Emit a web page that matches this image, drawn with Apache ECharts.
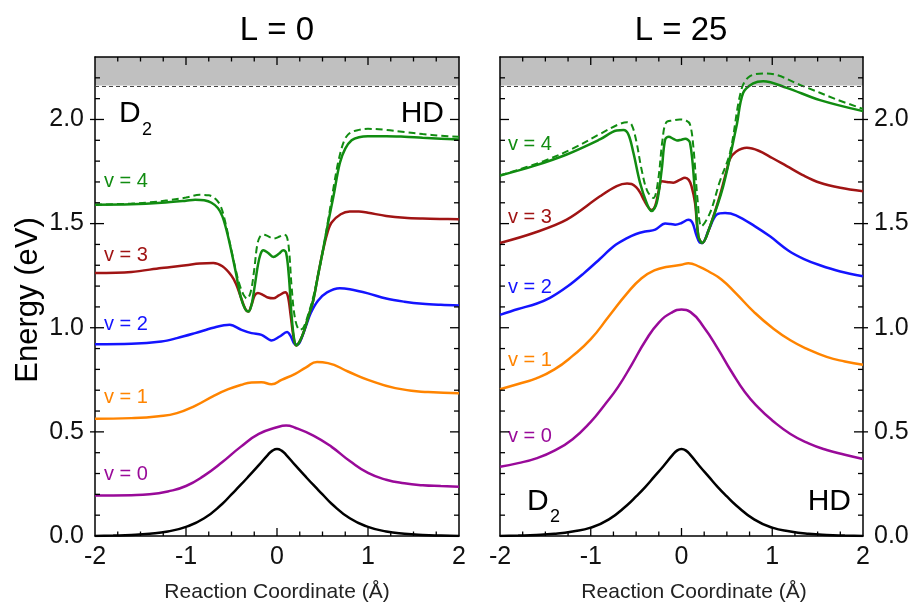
<!DOCTYPE html>
<html>
<head>
<meta charset="utf-8">
<script src="https://cdn.jsdelivr.net/npm/echarts@6/dist/echarts.min.js"></script>
<style>
html,body{margin:0;padding:0;background:#fff;}
#chart{width:913px;height:605px;}
</style>
</head>
<body>
<div id="chart"></div>
<script>
// ---------- data (x in Å, energy in eV) ----------
const xTicks = [-2, -1, 0, 1, 2];
const yTicks = [0, 0.5, 1.0, 1.5, 2.0];
const yTickLabels = ['0.0', '0.5', '1.0', '1.5', '2.0'];
const xMinorStep = 0.25;
const yMinorStep = 0.1;
const dissociationLimit = 2.163;
const yMax = 2.3;

// L = 0 panel
const barrierL0 = [[-2,0],[-1.8,0.002],[-1.6,0.005],[-1.4,0.011],[-1.2,0.022],[-1.0,0.044],[-0.8,0.085],[-0.6,0.155],[-0.5,0.2],[-0.4,0.245],[-0.3,0.292],[-0.2,0.34],[-0.1,0.39],[-0.05,0.41],[0,0.418],[0.05,0.41],[0.1,0.39],[0.2,0.34],[0.3,0.292],[0.4,0.245],[0.5,0.2],[0.6,0.155],[0.8,0.085],[1.0,0.044],[1.2,0.022],[1.4,0.011],[1.6,0.005],[1.8,0.002],[2,0]];
const v0L0 = [[-2,0.194],[-1.6,0.196],[-1.4,0.2],[-1.2,0.214],[-1.0,0.24],[-0.8,0.29],[-0.6,0.355],[-0.4,0.428],[-0.2,0.49],[0,0.522],[0.1,0.53],[0.2,0.52],[0.4,0.482],[0.6,0.428],[0.8,0.36],[1.0,0.303],[1.2,0.27],[1.4,0.253],[1.6,0.244],[1.8,0.24],[2,0.237]];
const v1L0 = [[-2,0.563],[-1.6,0.566],[-1.3,0.575],[-1.1,0.59],[-0.9,0.625],[-0.7,0.672],[-0.535,0.705],[-0.4,0.725],[-0.28,0.737],[-0.17,0.738],[-0.06,0.729],[0.05,0.75],[0.2,0.779],[0.32,0.81],[0.44,0.835],[0.56,0.83],[0.78,0.79],[1.0,0.75],[1.3,0.71],[1.66,0.691],[2,0.686]];
const v2L0 = [[-2,0.921],[-1.6,0.923],[-1.27,0.934],[-1.1,0.95],[-0.9,0.974],[-0.7,1.0],[-0.52,1.014],[-0.39,0.99],[-0.28,0.974],[-0.17,0.966],[-0.06,0.939],[0.03,0.958],[0.11,0.979],[0.15,0.96],[0.2,0.92],[0.23,0.92],[0.27,0.95],[0.32,1.01],[0.37,1.07],[0.45,1.13],[0.55,1.17],[0.69,1.19],[0.8,1.185],[1.0,1.165],[1.2,1.14],[1.4,1.125],[1.6,1.115],[1.8,1.11],[2,1.107]];
const v3L0 = [[-2,1.263],[-1.6,1.268],[-1.27,1.287],[-1.0,1.3],[-0.85,1.308],[-0.7,1.311],[-0.6,1.295],[-0.5,1.25],[-0.45,1.21],[-0.4,1.15],[-0.35,1.092],[-0.315,1.078],[-0.28,1.11],[-0.245,1.155],[-0.21,1.167],[-0.15,1.157],[-0.1,1.145],[-0.04,1.141],[0.02,1.155],[0.09,1.17],[0.12,1.15],[0.15,1.06],[0.18,0.96],[0.21,0.915],[0.25,0.935],[0.29,0.975],[0.35,1.06],[0.4,1.135],[0.45,1.25],[0.5,1.36],[0.55,1.45],[0.6,1.505],[0.7,1.545],[0.8,1.558],[0.9,1.558],[1.0,1.552],[1.2,1.537],[1.4,1.528],[1.6,1.524],[1.8,1.522],[2,1.521]];
const v4L0 = [[-2,1.591],[-1.6,1.593],[-1.27,1.6],[-1.0,1.61],[-0.9,1.615],[-0.8,1.612],[-0.72,1.6],[-0.65,1.575],[-0.6,1.535],[-0.55,1.46],[-0.5,1.365],[-0.45,1.26],[-0.4,1.15],[-0.35,1.09],[-0.315,1.078],[-0.28,1.11],[-0.245,1.2],[-0.21,1.3],[-0.18,1.355],[-0.15,1.372],[-0.1,1.36],[-0.04,1.34],[0.02,1.355],[0.07,1.372],[0.1,1.36],[0.13,1.25],[0.16,1.06],[0.19,0.94],[0.215,0.915],[0.25,0.935],[0.29,0.975],[0.35,1.06],[0.4,1.135],[0.45,1.25],[0.5,1.36],[0.56,1.5],[0.62,1.63],[0.69,1.79],[0.75,1.86],[0.82,1.9],[0.9,1.915],[1.0,1.92],[1.2,1.92],[1.4,1.917],[1.6,1.912],[1.8,1.908],[2,1.904]];
const v4dL0 = [[-2,1.591],[-1.6,1.596],[-1.4,1.602],[-1.2,1.612],[-1.0,1.625],[-0.85,1.638],[-0.75,1.636],[-0.68,1.62],[-0.62,1.585],[-0.57,1.51],[-0.52,1.41],[-0.47,1.31],[-0.42,1.22],[-0.37,1.16],[-0.33,1.14],[-0.29,1.17],[-0.25,1.28],[-0.22,1.39],[-0.19,1.435],[-0.15,1.447],[-0.1,1.44],[-0.04,1.428],[0.03,1.438],[0.08,1.447],[0.11,1.435],[0.135,1.36],[0.16,1.2],[0.2,1.04],[0.25,0.99],[0.29,1.0],[0.34,1.06],[0.4,1.15],[0.45,1.25],[0.5,1.36],[0.56,1.51],[0.62,1.67],[0.68,1.81],[0.74,1.9],[0.8,1.935],[0.9,1.95],[1.0,1.955],[1.2,1.95],[1.4,1.94],[1.6,1.93],[1.8,1.922],[2,1.917]];

// L = 25 panel
const barrierL25 = [[-2,0],[-1.8,0.002],[-1.6,0.005],[-1.4,0.011],[-1.2,0.022],[-1.0,0.040],[-0.8,0.08],[-0.6,0.148],[-0.5,0.19],[-0.4,0.235],[-0.3,0.285],[-0.2,0.335],[-0.1,0.388],[-0.05,0.41],[0,0.418],[0.05,0.41],[0.1,0.388],[0.2,0.335],[0.3,0.285],[0.4,0.235],[0.5,0.19],[0.6,0.148],[0.8,0.08],[1.0,0.040],[1.2,0.022],[1.4,0.011],[1.6,0.005],[1.8,0.002],[2,0]];
const v0L25 = [[-2,0.333],[-1.8,0.35],[-1.6,0.373],[-1.4,0.41],[-1.2,0.465],[-1.0,0.548],[-0.85,0.628],[-0.7,0.715],[-0.55,0.822],[-0.4,0.935],[-0.25,1.025],[-0.1,1.075],[0,1.087],[0.1,1.075],[0.25,1.0],[0.4,0.9],[0.55,0.79],[0.7,0.69],[0.85,0.615],[1.0,0.555],[1.2,0.49],[1.4,0.445],[1.6,0.413],[1.8,0.39],[2,0.37]];
const v1L25 = [[-2,0.705],[-1.8,0.73],[-1.6,0.757],[-1.4,0.8],[-1.2,0.865],[-1.0,0.945],[-0.8,1.055],[-0.6,1.165],[-0.44,1.238],[-0.3,1.275],[-0.15,1.293],[0,1.302],[0.075,1.31],[0.2,1.292],[0.3,1.27],[0.44,1.232],[0.6,1.165],[0.8,1.075],[1.0,1.0],[1.2,0.94],[1.4,0.895],[1.6,0.86],[1.8,0.838],[2,0.822]];
const v2L25 = [[-2,1.062],[-1.8,1.09],[-1.6,1.115],[-1.45,1.143],[-1.25,1.2],[-1.08,1.26],[-0.9,1.33],[-0.75,1.39],[-0.6,1.43],[-0.5,1.45],[-0.4,1.462],[-0.29,1.471],[-0.18,1.5],[-0.12,1.498],[-0.07,1.495],[0.0,1.503],[0.075,1.518],[0.12,1.505],[0.16,1.45],[0.2,1.41],[0.229,1.407],[0.3,1.47],[0.388,1.543],[0.48,1.551],[0.6,1.54],[0.81,1.487],[0.975,1.439],[1.18,1.37],[1.35,1.33],[1.526,1.3],[1.75,1.27],[2,1.247]];
const v3L25 = [[-2,1.407],[-1.63,1.455],[-1.265,1.519],[-0.898,1.631],[-0.714,1.68],[-0.6,1.692],[-0.55,1.69],[-0.5,1.675],[-0.457,1.65],[-0.41,1.61],[-0.36,1.575],[-0.33,1.565],[-0.29,1.585],[-0.25,1.66],[-0.218,1.703],[-0.16,1.7],[-0.09,1.696],[-0.02,1.71],[0.039,1.72],[0.08,1.71],[0.11,1.68],[0.149,1.6],[0.186,1.44],[0.229,1.407],[0.314,1.487],[0.42,1.63],[0.5,1.76],[0.534,1.81],[0.6,1.845],[0.72,1.864],[0.85,1.85],[1.0,1.815],[1.16,1.776],[1.35,1.73],[1.526,1.696],[1.75,1.672],[2,1.655]];
const v4L25 = [[-2,1.731],[-1.633,1.776],[-1.265,1.832],[-0.9,1.904],[-0.714,1.947],[-0.64,1.949],[-0.585,1.928],[-0.53,1.84],[-0.457,1.696],[-0.384,1.599],[-0.33,1.56],[-0.273,1.599],[-0.218,1.76],[-0.18,1.904],[-0.14,1.917],[-0.09,1.907],[-0.05,1.899],[0.0,1.903],[0.04,1.907],[0.094,1.888],[0.149,1.647],[0.186,1.44],[0.229,1.407],[0.314,1.487],[0.46,1.68],[0.607,1.97],[0.68,2.128],[0.79,2.173],[0.9,2.184],[1.16,2.152],[1.526,2.093],[2,2.04]];
const v4dL25 = [[-2,1.731],[-1.52,1.8],[-1.2,1.86],[-0.9,1.93],[-0.7,1.975],[-0.6,1.987],[-0.55,1.975],[-0.5,1.9],[-0.44,1.76],[-0.38,1.66],[-0.31,1.623],[-0.26,1.7],[-0.21,1.9],[-0.17,1.985],[-0.1,1.995],[-0.02,2.0],[0.05,1.995],[0.094,1.976],[0.13,1.872],[0.18,1.6],[0.22,1.487],[0.314,1.551],[0.42,1.7],[0.534,1.84],[0.66,2.144],[0.755,2.208],[0.94,2.221],[1.34,2.16],[1.71,2.096],[2,2.051]];

const levelNames = ['v = 0', 'v = 1', 'v = 2', 'v = 3', 'v = 4'];
const panelTitles = ['L = 0', 'L = 25'];

// ---------- styling ----------
const FONT = '"Liberation Sans", Arial, Helvetica, sans-serif';
const C = {black:'#000000', v0:'#990a99', v1:'#ff8400', v2:'#1414ff', v3:'#a01414', v4:'#118c11'};
function frame() { return {show:true, onZero:false, lineStyle:{color:'#000', width:1.5}}; }

const xAxisList = [];
const yAxisList = [];
function addX(grid, pos) {
  xAxisList.push({
    type:'value', gridIndex:grid, position:pos, min:xTicks[0], max:xTicks[xTicks.length-1], interval:1,
    axisLine: frame(), splitLine:{show:false}, axisTick:{show:false},
    axisLabel: pos === 'bottom'
      ? {show:true, fontSize:25, fontFamily:FONT, color:'#111', margin:9,
         formatter:v => { const i = xTicks.indexOf(Math.round(v)); return i>=0 ? String(xTicks[i]) : ''; }}
      : {show:false}
  });
  return xAxisList.length - 1;
}
function addY(grid, pos, labels) {
  yAxisList.push({
    type:'value', gridIndex:grid, position:pos, min:0, max:yMax, interval:0.5,
    axisLine: frame(), splitLine:{show:false}, axisTick:{show:false},
    axisLabel: labels
      ? {show:true, fontSize:25, fontFamily:FONT, color:'#111', margin:11, showMaxLabel:false,
         formatter:v => { const k = yTicks.findIndex(t => Math.abs(t - v) < 1e-6); return k >= 0 ? yTickLabels[k] : ''; }}
      : {show:false}
  });
  return yAxisList.length - 1;
}

const panelAxes = [0, 1].map(g => {
  const xi = addX(g, 'bottom');
  addX(g, 'top');
  const labelSide = g === 0 ? 'left' : 'right';
  const otherSide = g === 0 ? 'right' : 'left';
  const yi = addY(g, labelSide, true);
  addY(g, otherSide, false);
  return {xi, yi, labelSide};
});

// tick marks: [x, y, dirX, dirY, lengthInside, lengthOutside]
function tickData(labelSide) {
  const out = [];
  const xMin = xTicks[0], xMaxV = xTicks[xTicks.length-1];
  const nx = Math.round((xMaxV - xMin) / xMinorStep);
  for (let k = 1; k < nx; k++) {
    const x = xMin + k * xMinorStep;
    const major = xTicks.some(t => Math.abs(t - x) < 1e-9);
    const L = major ? 8 : 4.5;
    out.push([x, 0, 0, -1, L, 0]);      // bottom, pointing up
    out.push([x, yMax, 0, 1, L, 0]);    // top, pointing down
  }
  const ny = Math.round(yMax / yMinorStep);
  for (let k = 1; k < ny; k++) {
    const y = k * yMinorStep;
    const major = yTicks.some(t => Math.abs(t - y) < 1e-9);
    const L = major ? 9 : 5;
    const leftOut = (major && labelSide === 'left') ? 5 : 0;
    const rightOut = (major && labelSide === 'right') ? 5 : 0;
    out.push([xMin, y, 1, 0, L, leftOut]);    // left side, pointing right
    out.push([xMaxV, y, -1, 0, L, rightOut]); // right side, pointing left
  }
  return out;
}
function tickSeries(ax) {
  return {
    type:'custom', xAxisIndex:ax.xi, yAxisIndex:ax.yi, z:6, silent:true, clip:false,
    encode:{x:0, y:1},
    data: tickData(ax.labelSide),
    renderItem: (params, api) => {
      const p = api.coord([api.value(0), api.value(1)]);
      const dx = api.value(2), dy = api.value(3), li = api.value(4), lo = api.value(5);
      return {type:'line', silent:true,
        shape:{x1:p[0] - dx*lo, y1:p[1] - dy*lo, x2:p[0] + dx*li, y2:p[1] + dy*li},
        style:{stroke:'#000', lineWidth:1.3}};
    }
  };
}

function line(name, data, color, ax, dashed, smooth) {
  return {
    name, type:'line', data, xAxisIndex:ax.xi, yAxisIndex:ax.yi, showSymbol:false, symbol:'none',
    smooth: smooth,
    lineStyle:{color, width: dashed ? 2 : 2.5, type: dashed ? [7,4] : 'solid'}
  };
}
function band(ax) {
  return {
    type:'line', data:[], xAxisIndex:ax.xi, yAxisIndex:ax.yi, z:-1,
    markArea:{silent:true, z:-1, itemStyle:{color:'#c0c0c0'}, data:[[{yAxis:dissociationLimit},{yAxis:yMax}]]},
    markLine:{silent:true, symbol:'none', label:{show:false},
      lineStyle:{color:'#444', width:1, type:[4,3]}, data:[{yAxis:dissociationLimit}]}
  };
}

const panels = [
  {curves:[barrierL0, v0L0, v1L0, v2L0, v3L0, v4L0], dashed:v4dL0},
  {curves:[barrierL25, v0L25, v1L25, v2L25, v3L25, v4L25], dashed:v4dL25}
];
const colors = [C.black, C.v0, C.v1, C.v2, C.v3, C.v4];
const smoothing = [0.5, 0.5, 0.5, 0.35, 0.35, 0.35];
const series = [];
panels.forEach((p, k) => {
  const ax = panelAxes[k];
  series.push(band(ax));
  p.curves.forEach((d, i) => series.push(line((i===0?'barrier':levelNames[i-1]) + ' ' + panelTitles[k], d, colors[i], ax, false, smoothing[i])));
  series.push(line('v = 4 dashed ' + panelTitles[k], p.dashed, C.v4, ax, true, 0.35));
  series.push(tickSeries(ax));
});

function txt(x, y, text, size, color, align, extra) {
  return Object.assign({type:'text', x, y,
    style:{text, fontSize:size, fontFamily:FONT, fill:color, align:align||'left', verticalAlign:'middle'}}, extra||{});
}
const labL = [474, 397, 324, 255, 181];
const labR = [436, 360, 287, 217, 144];
const lvlColors = [C.v0, C.v1, C.v2, C.v3, C.v4];
const graphics = [
  txt(277, 31, panelTitles[0], 33, '#000', 'center'),
  txt(681, 31, panelTitles[1], 33, '#000', 'center'),
  txt(28, 300, 'Energy (eV)', 31, '#000', 'center', {rotation: Math.PI/2}),
  txt(277, 592, 'Reaction Coordinate (Å)', 21, '#222', 'center'),
  txt(694, 592, 'Reaction Coordinate (Å)', 21, '#222', 'center'),
  txt(119, 114, 'D', 30, '#000', 'left'),
  txt(142, 130, '2', 18, '#000', 'left'),
  txt(444, 114, 'HD', 30, '#000', 'right'),
  txt(527, 502, 'D', 30, '#000', 'left'),
  txt(550, 517, '2', 18, '#000', 'left'),
  txt(851, 502, 'HD', 30, '#000', 'right')
];
levelNames.forEach((n, i) => {
  graphics.push(txt(104, labL[i], n, 20, lvlColors[i], 'left'));
  graphics.push(txt(508, labR[i], n, 20, lvlColors[i], 'left'));
});

const chart = echarts.init(document.getElementById('chart'));
chart.setOption({
  animation:false,
  backgroundColor:'#fff',
  grid:[{left:95, top:57, width:364, height:479}, {left:500, top:57, width:363, height:479}],
  xAxis:xAxisList,
  yAxis:yAxisList,
  series,
  graphic:graphics
});
</script>
</body>
</html>
